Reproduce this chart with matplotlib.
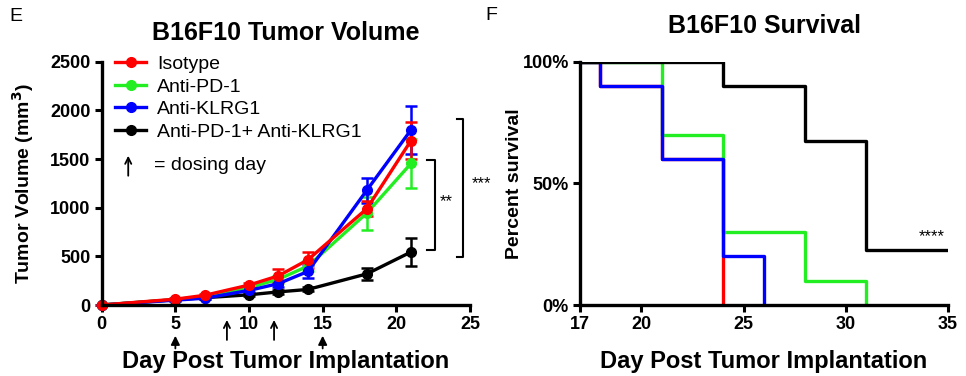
import matplotlib
matplotlib.use("Agg")
import matplotlib.pyplot as plt
from matplotlib.lines import Line2D

plt.rcParams['font.family'] = ['Liberation Sans', 'DejaVu Sans']

# ---- tumor volume data (panel E)
days = [0, 5, 7, 10, 12, 14, 18, 21]
iso = [0, 60, 100, 205, 300, 465, 990, 1690]
iso_err = [0, 10, 15, 25, 65, 80, 75, 190]
pd1 = [0, 55, 90, 180, 265, 400, 945, 1455]
pd1_err = [0, 10, 12, 20, 35, 50, 170, 255]
klrg1 = [0, 50, 70, 150, 220, 345, 1180, 1800]
klrg1_err = [0, 10, 12, 20, 30, 70, 130, 250]
combo = [0, 55, 75, 105, 135, 160, 320, 545]
combo_err = [0, 8, 10, 15, 20, 20, 65, 140]
dose_days = [5, 8.5, 11.7, 15]

# ---- survival data (panel F)
red_t, red_s = [17, 18, 21, 24], [100, 90, 60, 0]
green_t, green_s = [17, 21, 24, 28, 31], [100, 70, 30, 10, 0]
blue_t, blue_s = [17, 18, 21, 24, 26], [100, 90, 60, 20, 0]
black_t, black_s = [17, 24, 28, 31, 35], [100, 90, 67.5, 22.5, 22.5]

RED, GREEN, BLUE, BLACK = '#FF0000', '#22EE22', '#0000FF', '#000000'

fig = plt.figure(figsize=(9.66, 3.76), dpi=100)
ax1 = fig.add_axes([0.1053, 0.1888, 0.3812, 0.647])
ax2 = fig.add_axes([0.6004, 0.1888, 0.3810, 0.647])

for ax in (ax1, ax2):
    ax.spines['top'].set_visible(False)
    ax.spines['right'].set_visible(False)
    for s in ('left', 'bottom'):
        ax.spines[s].set_linewidth(2.4)
    ax.tick_params(width=2.2, length=5, labelsize=13, pad=3)

series = [
    (combo, combo_err, BLACK),
    (pd1, pd1_err, GREEN),
    (klrg1, klrg1_err, BLUE),
    (iso, iso_err, RED),
]
for vals, err, col in series:
    ax1.errorbar(days, vals, yerr=err, color=col, lw=2.4, marker='o', ms=7,
                 capsize=4, elinewidth=1.8, capthick=1.8, clip_on=False)

ax1.set_xlim(0, 25)
ax1.set_ylim(0, 2500)
ax1.set_xticks([0, 5, 10, 15, 20, 25])
ax1.set_yticks([0, 500, 1000, 1500, 2000, 2500])
for lab in ax1.get_xticklabels() + ax1.get_yticklabels():
    lab.set_fontweight('bold')
ax1.set_title('B16F10 Tumor Volume', fontsize=18, fontweight='bold', pad=16)
ax1.set_ylabel('Tumor Volume (mm$^\\mathbf{3}$)', fontsize=14, fontweight='bold', labelpad=10)
ax1.set_xlabel('Day Post Tumor Implantation', fontsize=17, fontweight='bold', labelpad=12)

# dosing arrows
xt = ax1.get_xaxis_transform()
for d in dose_days:
    if d in (5, 15):
        ax1.annotate('', xy=(d, -0.115), xytext=(d, -0.19), xycoords=xt, textcoords=xt,
                     arrowprops=dict(arrowstyle='-|>', color='black', lw=1.3, mutation_scale=13))
    else:
        ax1.annotate('', xy=(d, -0.05), xytext=(d, -0.155), xycoords=xt, textcoords=xt,
                     arrowprops=dict(arrowstyle='->', color='black', lw=1.3, mutation_scale=11))

handles = [
    Line2D([], [], color=RED, lw=2.4, marker='o', ms=7),
    Line2D([], [], color=GREEN, lw=2.4, marker='o', ms=7),
    Line2D([], [], color=BLUE, lw=2.4, marker='o', ms=7),
    Line2D([], [], color=BLACK, lw=2.4, marker='o', ms=7),
]
labels = ['Isotype', 'Anti-PD-1', 'Anti-KLRG1', 'Anti-PD-1+ Anti-KLRG1']
ax1.legend(handles, labels, loc='upper left', bbox_to_anchor=(0.01, 1.065), frameon=False,
           fontsize=14, handlelength=1.6, handletextpad=0.55, labelspacing=0.25, borderpad=0)
ax1.annotate('', xy=(0.072, 0.625), xytext=(0.072, 0.52), xycoords='axes fraction',
             arrowprops=dict(arrowstyle='->', color='black', lw=1.3, mutation_scale=11))
ax1.text(0.142, 0.575, '= dosing day', transform=ax1.transAxes, fontsize=14, va='center')

# significance brackets
def bracket(ax, x0, x1, y0, y1, text, tx):
    ax.plot([x0, x1, x1, x0], [y1, y1, y0, y0], color='black', lw=1.5, clip_on=False)
    ax.text(tx, (y0 + y1) / 2 + 40, text, ha='center', va='center', fontsize=12, clip_on=False)

bracket(ax1, 22.1, 22.65, 565, 1490, '**', 23.4)
bracket(ax1, 24.1, 24.55, 495, 1915, '***', 25.8)

# ---- survival
for t, s, col in [(red_t, red_s, RED), (green_t, green_s, GREEN),
                  (blue_t, blue_s, BLUE), (black_t, black_s, BLACK)]:
    ax2.step(t, s, where='post', color=col, lw=2.4)

ax2.set_xlim(17, 35)
ax2.set_ylim(0, 100)
ax2.set_xticks([17, 20, 25, 30, 35])
ax2.set_yticks([0, 50, 100])
ax2.set_yticklabels(['0%', '50%', '100%'])
for lab in ax2.get_xticklabels() + ax2.get_yticklabels():
    lab.set_fontweight('bold')
ax2.set_title('B16F10 Survival', fontsize=18, fontweight='bold', pad=21)
ax2.set_ylabel('Percent survival', fontsize=14, fontweight='bold', labelpad=0)
ax2.set_xlabel('Day Post Tumor Implantation', fontsize=17, fontweight='bold', labelpad=12)
ax2.text(34.2, 28, '****', ha='center', va='center', fontsize=12)

fig.text(0.010, 0.955, 'E', fontsize=14, va='center')
fig.text(0.502, 0.958, 'F', fontsize=14, va='center')

fig.savefig('out.png', dpi=100)
